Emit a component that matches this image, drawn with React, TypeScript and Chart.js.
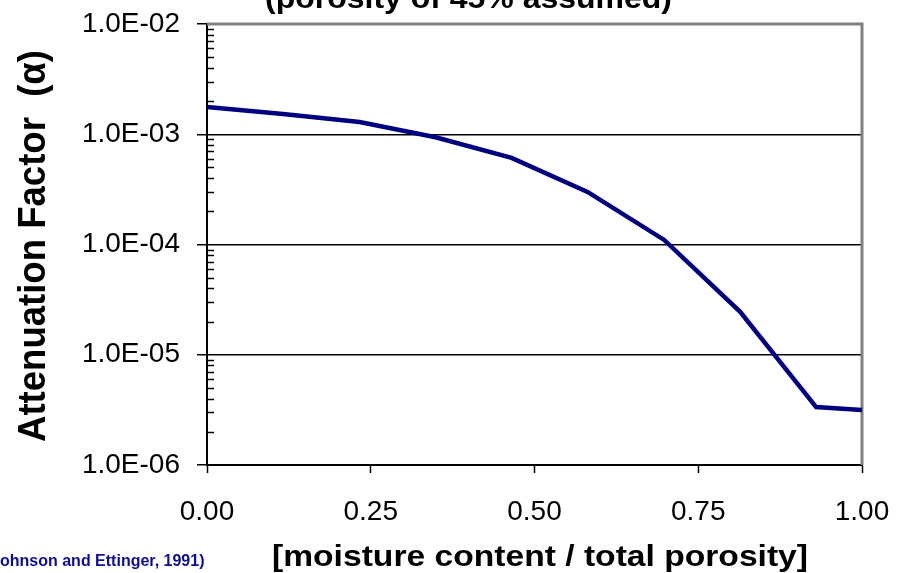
import React, { useEffect, useRef } from "react";
import { Chart, registerables } from "chart.js";

Chart.register(...registerables);

const moistureRatio = [0, 0.116, 0.233, 0.349, 0.465, 0.581, 0.698, 0.814, 0.93, 1.0];
const attenuation = [1.77e-3, 1.53e-3, 1.29e-3, 9.4e-4, 6.1e-4, 3.0e-4, 1.1e-4, 2.45e-5, 3.35e-6, 3.15e-6];
const yDecades = [1e-6, 1e-5, 1e-4, 1e-3, 1e-2];
const xTickStep = 0.25;

const titleText = "(porosity of 45% assumed)";
const yTitleText = "Attenuation Factor  (α)";
const xTitleText = "[moisture content / total porosity]";
const sourceText = "(Johnson and Ettinger, 1991)";

const FONT = "'Liberation Sans', Arial, sans-serif";

function fmtExp(v: number): string {
  const e = Math.round(Math.log10(v));
  const m = v / Math.pow(10, e);
  const sign = e < 0 ? "-" : "+";
  const abs = Math.abs(e);
  return `${m.toFixed(1)}E${sign}${abs < 10 ? "0" + abs : abs}`;
}

function drawFitted(ctx: CanvasRenderingContext2D, text: string, cx: number, base: number, size: number, width: number) {
  ctx.font = `bold ${size}px ${FONT}`;
  const w = ctx.measureText(text).width;
  const s = width / w;
  ctx.save();
  ctx.translate(cx, base);
  ctx.scale(s, 1);
  ctx.textAlign = "center";
  ctx.textBaseline = "alphabetic";
  ctx.fillText(text, 0, 0);
  ctx.restore();
}

const decorPlugin = {
  id: "decor",
  beforeDatasetsDraw(chart: any) {
    const { ctx, chartArea, scales } = chart;
    const y = scales.y;
    ctx.save();
    ctx.strokeStyle = "#000";
    ctx.lineWidth = 1.5;
    for (let i = 0; i < yDecades.length - 1; i++) {
      for (let k = 2; k <= 9; k++) {
        const py = Math.round(y.getPixelForValue(k * yDecades[i])) + 0.5;
        ctx.beginPath();
        ctx.moveTo(chartArea.left, py);
        ctx.lineTo(chartArea.left + 7, py);
        ctx.stroke();
      }
    }
    ctx.strokeStyle = "#808080";
    ctx.lineWidth = 3;
    ctx.beginPath();
    ctx.moveTo(chartArea.left, chartArea.top);
    ctx.lineTo(chartArea.right, chartArea.top);
    ctx.lineTo(chartArea.right, chartArea.bottom);
    ctx.stroke();
    ctx.restore();
  },
  afterDraw(chart: any) {
    const { ctx, chartArea } = chart;
    ctx.save();
    ctx.fillStyle = "#000";
    drawFitted(ctx, titleText, 468.5, 8, 30, 407);
    drawFitted(ctx, xTitleText, 540, 566, 30, 536);
    ctx.save();
    ctx.translate(45, 246);
    ctx.rotate(-Math.PI / 2);
    drawFitted(ctx, yTitleText, 0, 0, 38, 392);
    ctx.restore();
    ctx.font = `bold 16px ${FONT}`;
    ctx.fillStyle = "#0c0c96";
    ctx.textAlign = "left";
    ctx.textBaseline = "alphabetic";
    const off = ctx.measureText("(J").width;
    ctx.fillText(sourceText, -off, 566);
    ctx.restore();
  },
};

export default function App() {
  const ref = useRef<HTMLCanvasElement | null>(null);
  useEffect(() => {
    if (!ref.current) return;
    const chart = new Chart(ref.current, {
      type: "line",
      data: {
        datasets: [
          {
            data: moistureRatio.map((x, i) => ({ x, y: attenuation[i] })),
            borderColor: "#000080",
            borderWidth: 4.5,
            pointRadius: 0,
            tension: 0,
            fill: false,
          },
        ],
      },
      options: {
        animation: false,
        responsive: false,
        devicePixelRatio: 1,
        layout: { padding: { left: 0, right: 35, top: 24, bottom: 0 } },
        plugins: { legend: { display: false }, tooltip: { enabled: false }, title: { display: false } },
        scales: {
          x: {
            type: "linear",
            position: "bottom",
            min: 0,
            max: 1,
            ticks: {
              stepSize: xTickStep,
              callback: (v: any) => Number(v).toFixed(2),
              font: { family: FONT, size: 28 },
              color: "#000",
              padding: 22,
              maxRotation: 0,
            },
            grid: { drawOnChartArea: false, drawTicks: true, tickLength: 8, tickColor: "#000", tickWidth: 1.5 },
            border: { display: true, color: "#000", width: 2 },
            afterFit: (s: any) => {
              s.height = 108;
              s.paddingLeft = 0;
              s.paddingRight = 0;
            },
          },
          y: {
            type: "logarithmic",
            position: "left",
            min: 1e-6,
            max: 1e-2,
            afterBuildTicks: (s: any) => {
              s.ticks = yDecades.map((v) => ({ value: v }));
            },
            ticks: {
              callback: (v: any) => fmtExp(Number(v)),
              font: { family: FONT, size: 28 },
              color: "#000",
              padding: 17,
              autoSkip: false,
            },
            grid: {
              color: (c: any) => (c.tick && c.tick.value >= 1e-2 ? "rgba(0,0,0,0)" : "#000"),
              lineWidth: 1.5,
              drawTicks: true,
              tickLength: 10,
              tickColor: "#000",
              tickWidth: 1.5,
            },
            border: { display: true, color: "#000", width: 2 },
            afterFit: (s: any) => {
              s.width = 207;
              s.paddingTop = 0;
              s.paddingBottom = 0;
            },
          },
        },
      },
      plugins: [decorPlugin],
    });
    return () => chart.destroy();
  }, []);
  return (
    <div style={{ position: "absolute", left: 0, top: 0, width: 897, height: 573, background: "#fff" }}>
      <canvas ref={ref} width={897} height={573} style={{ display: "block" }} />
    </div>
  );
}
